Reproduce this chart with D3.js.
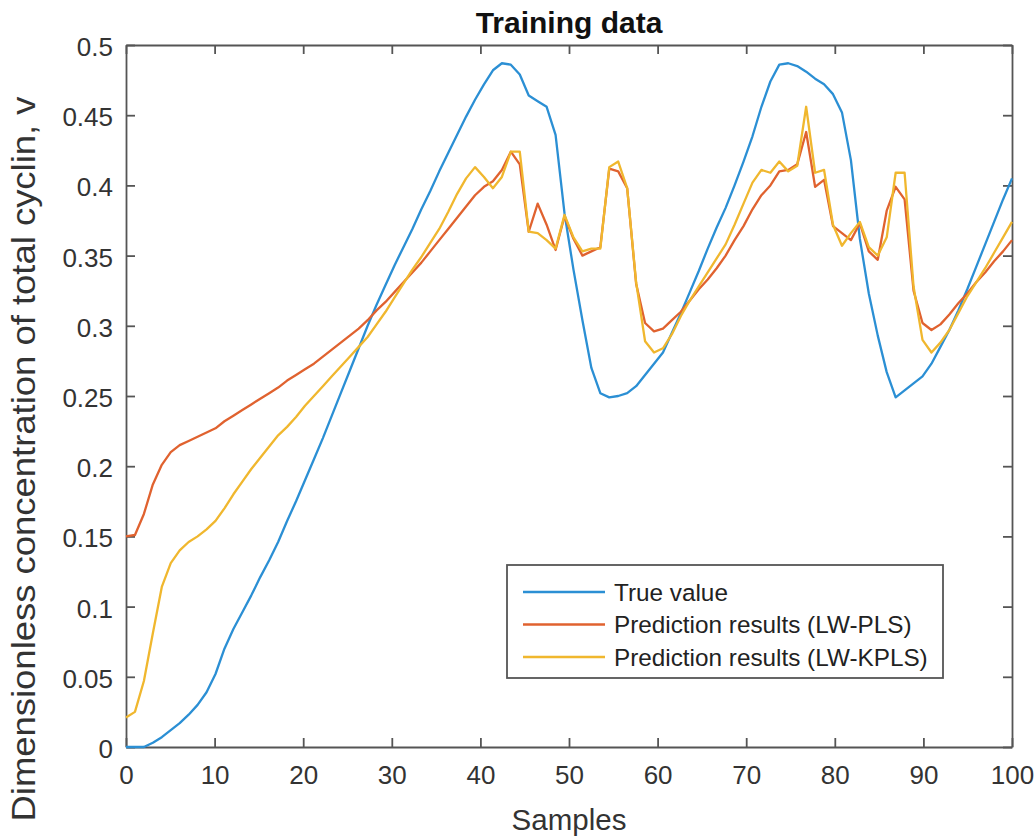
<!DOCTYPE html>
<html>
  <head>
    <meta charset="utf-8" />
    <style>
      body { margin: 0; background: #fff; }
      svg text { font-family: "Liberation Sans", Arial, sans-serif; }
      .axis path, .axis line { stroke: #555; stroke-width: 1.8px; }
      .axis text { fill: #333; font-size: 26px; }
    </style>
  </head>
  <body>
    <svg class="chart"></svg>

    <script src="https://d3js.org/d3.v7.min.js"></script>
    <script>
      // sample index 0..99 spread over 0..100 on the x axis
      var trueValue = [
        0, 0, 0.0, 0.003, 0.007, 0.012, 0.017, 0.023, 0.030, 0.039,
        0.052, 0.070, 0.084, 0.096, 0.108, 0.121, 0.133, 0.146, 0.161, 0.175,
        0.190, 0.205, 0.220, 0.236, 0.252, 0.268, 0.284, 0.300, 0.315, 0.329,
        0.343, 0.356, 0.369, 0.383, 0.396, 0.410, 0.423, 0.436, 0.449, 0.461,
        0.472, 0.482, 0.487, 0.486, 0.479, 0.464, 0.460, 0.456, 0.436, 0.380,
        0.340, 0.304, 0.270, 0.252, 0.249, 0.250, 0.252, 0.257, 0.265, 0.273,
        0.281, 0.295, 0.309, 0.324, 0.339, 0.355, 0.370, 0.384, 0.400, 0.417,
        0.435, 0.456, 0.474, 0.486, 0.487, 0.485, 0.481, 0.476, 0.472, 0.465,
        0.452, 0.418, 0.362, 0.323, 0.293, 0.267, 0.249, 0.254, 0.259, 0.264,
        0.273, 0.285, 0.297, 0.311, 0.326, 0.342, 0.358, 0.374, 0.390, 0.405
      ];

      var lwPls = [
        0.150, 0.151, 0.166, 0.187, 0.201, 0.210, 0.215, 0.218, 0.221, 0.224,
        0.227, 0.232, 0.236, 0.240, 0.244, 0.248, 0.252, 0.256, 0.261, 0.265,
        0.269, 0.273, 0.278, 0.283, 0.288, 0.293, 0.298, 0.304, 0.311, 0.317,
        0.324, 0.331, 0.338, 0.345, 0.353, 0.361, 0.369, 0.377, 0.385, 0.393,
        0.399, 0.403, 0.411, 0.424, 0.415, 0.367, 0.387, 0.372, 0.354, 0.378,
        0.362, 0.350, 0.353, 0.356, 0.412, 0.410, 0.398, 0.330, 0.302, 0.296,
        0.298, 0.304, 0.310, 0.318, 0.326, 0.333, 0.341, 0.350, 0.361, 0.371,
        0.383, 0.393, 0.400, 0.410, 0.411, 0.415, 0.438, 0.399, 0.404, 0.371,
        0.366, 0.361, 0.373, 0.353, 0.347, 0.382, 0.399, 0.390, 0.325, 0.302,
        0.297, 0.301, 0.308, 0.316, 0.323, 0.331, 0.338, 0.346, 0.353, 0.361
      ];

      var lwKpls = [
        0.021, 0.025, 0.047, 0.081, 0.114, 0.131, 0.140, 0.146, 0.150, 0.155,
        0.161, 0.170, 0.180, 0.189, 0.198, 0.206, 0.214, 0.222, 0.228, 0.235,
        0.243, 0.250, 0.257, 0.264, 0.271, 0.278, 0.285, 0.292, 0.301, 0.310,
        0.320, 0.330, 0.340, 0.349, 0.359, 0.369, 0.381, 0.394, 0.405, 0.413,
        0.406, 0.398, 0.406, 0.424, 0.424, 0.367, 0.366, 0.361, 0.355, 0.379,
        0.363, 0.353, 0.355, 0.355, 0.413, 0.417, 0.398, 0.331, 0.289, 0.281,
        0.284, 0.294, 0.307, 0.318, 0.328, 0.338, 0.348, 0.358, 0.372, 0.387,
        0.402, 0.411, 0.409, 0.417, 0.410, 0.414, 0.456, 0.409, 0.411, 0.372,
        0.357, 0.366, 0.374, 0.356, 0.350, 0.363, 0.409, 0.409, 0.328, 0.290,
        0.281, 0.288, 0.297, 0.309, 0.321, 0.331, 0.341, 0.352, 0.363, 0.374
      ];

      var seriesNames = [
        "True value",
        "Prediction results (LW-PLS)",
        "Prediction results (LW-KPLS)"
      ];
      var seriesColors = ["#2b8fd4", "#e0622f", "#f0b72e"];
      var xTicks = [0, 10, 20, 30, 40, 50, 60, 70, 80, 90, 100];
      var yTicks = [0, 0.05, 0.1, 0.15, 0.2, 0.25, 0.3, 0.35, 0.4, 0.45, 0.5];

      var width = 1035,
        height = 836,
        plotLeft = 126,
        plotRight = 1012,
        plotTop = 45,
        plotBottom = 747;

      var svg = d3.select(".chart").attr("width", width).attr("height", height);

      var x = d3.scaleLinear().domain([0, 100]).range([plotLeft, plotRight]);
      var xi = d3.scaleLinear().domain([0, trueValue.length - 1]).range([plotLeft, plotRight]);
      var y = d3.scaleLinear().domain([0, 0.5]).range([plotBottom, plotTop]);

      var fmt = function (d) { return String(d); };

      // axes, ticks pointing inward on all four sides
      svg.append("g").attr("class", "axis")
        .attr("transform", "translate(0," + plotBottom + ")")
        .call(d3.axisBottom(x).tickValues(xTicks).tickFormat(fmt)
          .tickSizeInner(-9).tickSizeOuter(0).tickPadding(19));
      svg.append("g").attr("class", "axis")
        .attr("transform", "translate(0," + plotTop + ")")
        .call(d3.axisTop(x).tickValues(xTicks).tickFormat("")
          .tickSizeInner(-9).tickSizeOuter(0));
      svg.append("g").attr("class", "axis y-left")
        .attr("transform", "translate(" + plotLeft + ",0)")
        .call(d3.axisLeft(y).tickValues(yTicks).tickFormat(fmt)
          .tickSizeInner(-9).tickSizeOuter(0).tickPadding(13));
      svg.append("g").attr("class", "axis")
        .attr("transform", "translate(" + plotRight + ",0)")
        .call(d3.axisRight(y).tickValues(yTicks).tickFormat("")
          .tickSizeInner(-9).tickSizeOuter(0));

      svg.selectAll(".y-left .tick text").attr("dy", "0.4em");

      // lines
      var line = d3.line()
        .x(function (d, i) { return xi(i); })
        .y(function (d) { return y(d); });

      [trueValue, lwPls, lwKpls].forEach(function (data, k) {
        svg.append("path")
          .datum(data)
          .attr("fill", "none")
          .attr("stroke", seriesColors[k])
          .attr("stroke-width", 2.3)
          .attr("stroke-linejoin", "round")
          .attr("d", line);
      });

      // title and labels
      svg.append("text")
        .attr("x", (plotLeft + plotRight) / 2)
        .attr("y", 33)
        .attr("text-anchor", "middle")
        .style("font-size", "30px")
        .style("font-weight", "bold")
        .attr("fill", "#111")
        .text("Training data");

      svg.append("text")
        .attr("x", (plotLeft + plotRight) / 2)
        .attr("y", 830)
        .attr("text-anchor", "middle")
        .style("font-size", "29.5px")
        .attr("fill", "#333")
        .text("Samples");

      svg.append("text")
        .attr("transform", "translate(35,459) rotate(-90)")
        .attr("text-anchor", "middle")
        .attr("textLength", 725)
        .attr("lengthAdjust", "spacingAndGlyphs")
        .style("font-size", "33px")
        .attr("fill", "#333")
        .text("Dimensionless concentration of total cyclin, v");

      // legend
      var legend = svg.append("g").attr("transform", "translate(507,565)");
      legend.append("rect")
        .attr("width", 436)
        .attr("height", 113)
        .attr("fill", "#fff")
        .attr("stroke", "#555")
        .attr("stroke-width", 1.8);

      var item = legend.selectAll(".item")
        .data(seriesNames)
        .enter()
        .append("g")
        .attr("transform", function (d, i) {
          return "translate(0," + (27 + i * 32.5) + ")";
        });

      item.append("line")
        .attr("x1", 16)
        .attr("x2", 98)
        .attr("stroke", function (d, i) { return seriesColors[i]; })
        .attr("stroke-width", 2.3);

      item.append("text")
        .attr("x", 107)
        .attr("dy", "0.36em")
        .style("font-size", "24.3px")
        .attr("fill", "#222")
        .text(function (d) { return d; });
    </script>
  </body>
</html>
